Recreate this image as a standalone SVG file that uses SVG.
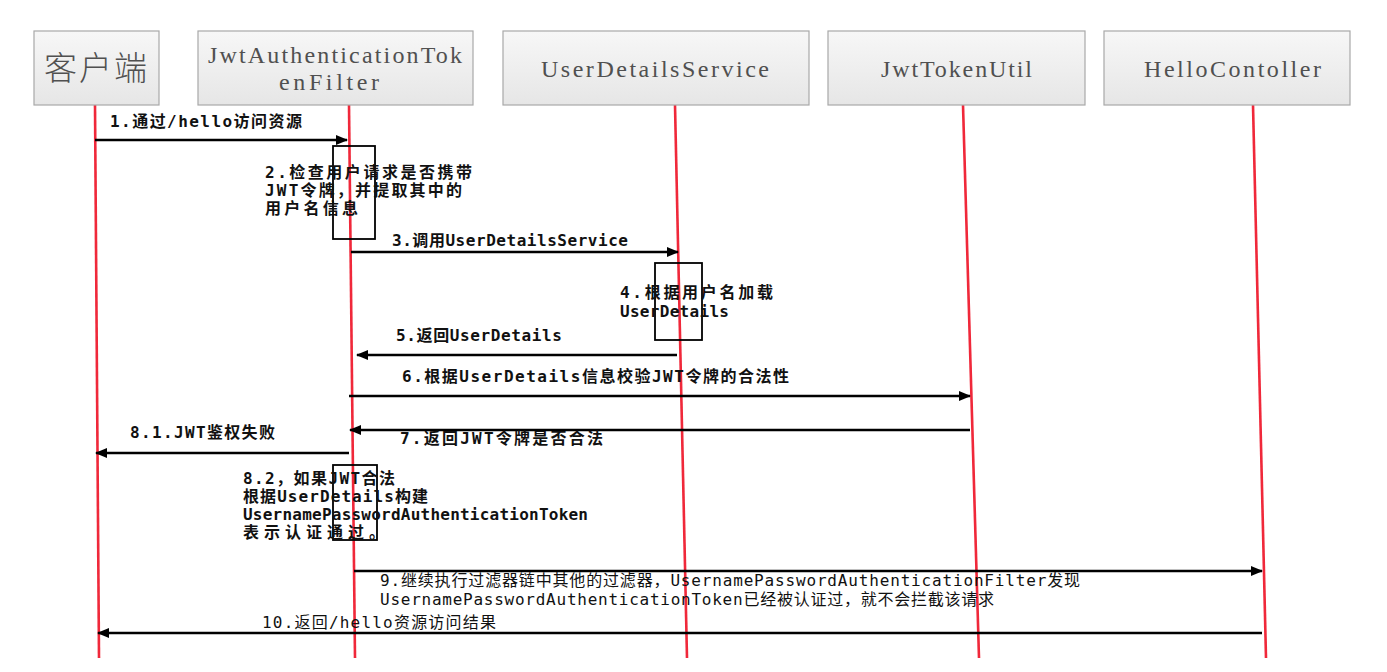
<svg xmlns="http://www.w3.org/2000/svg" width="1387" height="672" viewBox="0 0 1387 672">
<style>
.hdr{fill:url(#g);stroke:#a8a8a8;stroke-width:1.2}
.ht{font-family:"Liberation Serif","Noto Sans CJK SC",serif;font-size:24px;fill:#505050}
.life{stroke:#f0283a;stroke-width:2.6;fill:none}
.msg{stroke:#000;stroke-width:2.5;fill:none}
.act{fill:none;stroke:#000;stroke-width:1.8}
.lb{font-family:"DejaVu Sans Mono","Noto Sans CJK SC",monospace;font-size:16px;font-weight:bold;fill:#111}
.ln{font-family:"DejaVu Sans Mono","Noto Sans CJK SC",monospace;font-size:16px;fill:#111}
</style>
<defs>
<linearGradient id="g" x1="0" y1="0" x2="0" y2="1">
<stop offset="0" stop-color="#f7f7f7"/>
<stop offset="1" stop-color="#e6e6e6"/>
</linearGradient>
<marker id="ah" markerUnits="userSpaceOnUse" markerWidth="12" markerHeight="10" refX="11" refY="5" orient="auto">
<path d="M0,0 L12,5 L0,10 Z" fill="#000"/>
</marker>
</defs>
<rect width="1387" height="672" fill="#fff"/>
<g id="lifelines">
<line class="life" x1="95" y1="105" x2="99" y2="658"/>
<line class="life" x1="349" y1="105" x2="355" y2="658"/>
<line class="life" x1="675" y1="105" x2="687" y2="658"/>
<line class="life" x1="963" y1="105" x2="979" y2="658"/>
<line class="life" x1="1253" y1="105" x2="1266" y2="658"/>
</g>
<g id="node-client">
<rect class="hdr" x="34" y="31" width="125" height="74"/>
<text x="44" y="80" font-family="Noto Sans CJK SC,sans-serif" font-size="33" font-weight="300" fill="#505050" textLength="103" lengthAdjust="spacing">客户端</text>
</g>
<g id="node-filter">
<rect class="hdr" x="198" y="31" width="275" height="74"/>
<text class="ht" x="208" y="63" textLength="254" lengthAdjust="spacing">JwtAuthenticationTok</text>
<text class="ht" x="279" y="90" textLength="100" lengthAdjust="spacing">enFilter</text>
</g>
<g id="node-uds">
<rect class="hdr" x="503" y="31" width="306" height="74"/>
<text class="ht" x="541" y="77" textLength="228" lengthAdjust="spacing">UserDetailsService</text>
</g>
<g id="node-jwtutil">
<rect class="hdr" x="828" y="31" width="257" height="74"/>
<text class="ht" x="881" y="77" textLength="151" lengthAdjust="spacing">JwtTokenUtil</text>
</g>
<g id="node-hello">
<rect class="hdr" x="1104" y="31" width="246" height="74"/>
<text class="ht" x="1144" y="77" textLength="177" lengthAdjust="spacing">HelloContoller</text>
</g>
<g id="activations">
<rect class="act" x="333" y="146" width="42" height="93"/>
<rect class="act" x="655" y="263" width="47" height="77"/>
<rect class="act" x="333" y="465" width="44" height="75"/>
</g>
<g id="connectors">
<line class="msg" x1="95" y1="140" x2="347" y2="140" marker-end="url(#ah)"/>
<line class="msg" x1="351" y1="252" x2="678" y2="252" marker-end="url(#ah)"/>
<line class="msg" x1="677" y1="355" x2="357" y2="355" marker-end="url(#ah)"/>
<line class="msg" x1="349" y1="396" x2="970" y2="396" marker-end="url(#ah)"/>
<line class="msg" x1="970" y1="430" x2="350" y2="430" marker-end="url(#ah)"/>
<line class="msg" x1="349" y1="453" x2="96" y2="453" marker-end="url(#ah)"/>
<line class="msg" x1="354" y1="571" x2="1262" y2="571" marker-end="url(#ah)"/>
<line class="msg" x1="1262" y1="633" x2="98" y2="633" marker-end="url(#ah)"/>
</g>
<g id="labels">
<text class="lb" x="110" y="127" textLength="192" lengthAdjust="spacing">1.通过/hello访问资源</text>
<text class="lb" x="265" y="178" textLength="207" lengthAdjust="spacing">2.检查用户请求是否携带</text>
<text class="lb" x="265" y="196" textLength="197" lengthAdjust="spacing">JWT令牌，并提取其中的</text>
<text class="lb" x="265" y="214" textLength="93" lengthAdjust="spacing">用户名信息</text>
<text class="lb" x="392" y="246" textLength="236" lengthAdjust="spacing">3.调用UserDetailsService</text>
<text class="lb" x="620" y="298" textLength="153" lengthAdjust="spacing">4.根据用户名加载</text>
<text class="lb" x="620" y="317" textLength="109" lengthAdjust="spacing">UserDetails</text>
<text class="lb" x="396" y="341" textLength="166" lengthAdjust="spacing">5.返回UserDetails</text>
<text class="lb" x="402" y="382" textLength="387" lengthAdjust="spacing">6.根据UserDetails信息校验JWT令牌的合法性</text>
<text class="lb" x="400" y="444" textLength="203" lengthAdjust="spacing">7.返回JWT令牌是否合法</text>
<text class="lb" x="130" y="438" textLength="145" lengthAdjust="spacing">8.1.JWT鉴权失败</text>
<text class="lb" x="243" y="484" textLength="152" lengthAdjust="spacing">8.2，如果JWT合法</text>
<text class="lb" x="243" y="502" textLength="185" lengthAdjust="spacing">根据UserDetails构建</text>
<text class="lb" x="243" y="520" textLength="345" lengthAdjust="spacing">UsernamePasswordAuthenticationToken</text>
<text class="lb" x="243" y="538" textLength="142" lengthAdjust="spacing">表示认证通过。</text>
<text class="ln" x="380" y="586" textLength="700" lengthAdjust="spacing">9.继续执行过滤器链中其他的过滤器，UsernamePasswordAuthenticationFilter发现</text>
<text class="ln" x="380" y="605" textLength="614" lengthAdjust="spacing">UsernamePasswordAuthenticationToken已经被认证过，就不会拦截该请求</text>
<text class="ln" x="262" y="628" textLength="234" lengthAdjust="spacing">10.返回/hello资源访问结果</text>
</g>
</svg>
